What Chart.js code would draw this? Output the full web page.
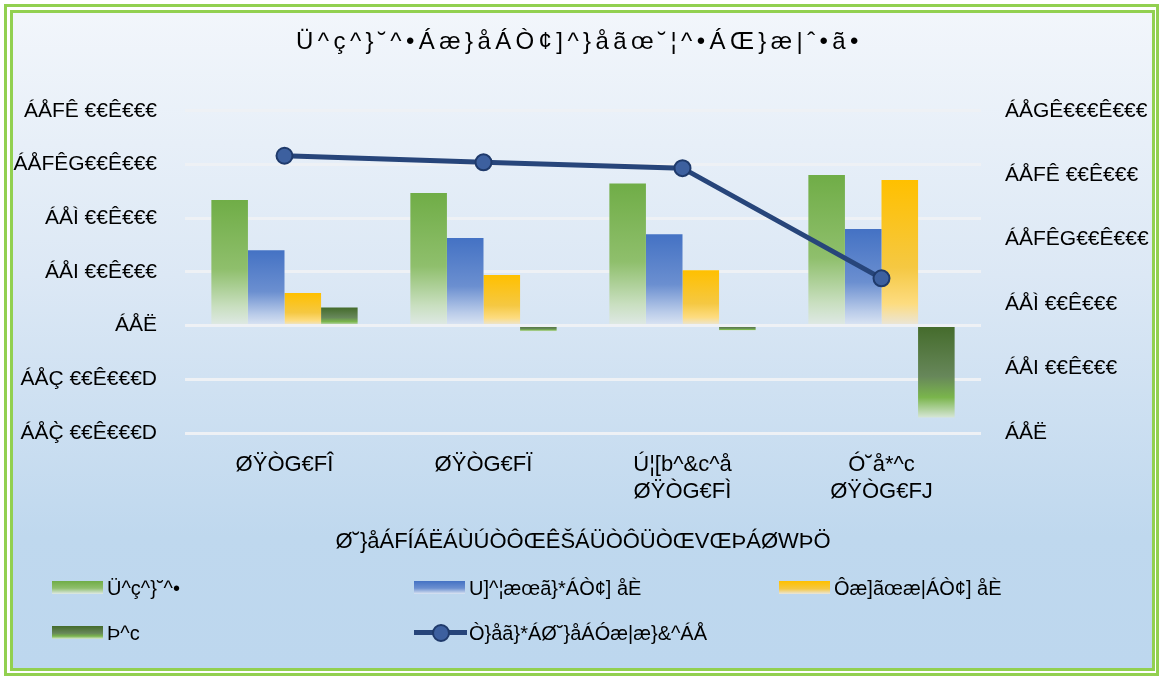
<!DOCTYPE html>
<html>
<head>
<meta charset="utf-8">
<script src="https://cdn.jsdelivr.net/npm/chart.js@4.4.1/dist/chart.umd.min.js"></script>
<style>
  body { margin: 0; background: #fff; font-family: "Liberation Sans", Arial, sans-serif; }
  #wrap { position: relative; width: 1159px; height: 677px; overflow: hidden; }
  .frame { position: absolute; box-sizing: border-box; border: 3px solid #92d050; }
  #outer { left: 4px; top: 4px; width: 1155px; height: 672px; }
  #inner { left: 10px; top: 10px; width: 1145px; height: 661px;
    background: linear-gradient(to bottom, #f2f6fb 0%, #dce8f5 40%, #bfd8ee 80%, #bdd7ee 100%); }
  canvas { position: absolute; left: 0; top: 0; }
  .lg { position: absolute; font-size: 20px; color: #000; white-space: nowrap; line-height: 24px; }
  .sw { position: absolute; height: 13px; }
</style>
</head>
<body>
<div id="wrap">
  <div class="frame" id="outer"></div>
  <div class="frame" id="inner"></div>
  <canvas id="myChart" width="1159" height="677"></canvas>
  <div id="legend"></div>
</div>
<script>
var chartTitle = 'Ü^ç^}˘^•Áæ}åÁÒ¢]^}åãœ˘¦^•ÁŒ}æ|ˆ•ã•';
var xTitle = 'Ø˘}åÁFÍÁËÁÙÚÒÔŒÊŠÁÜÒÔÜÒŒVŒÞÁØWÞÖ';
var categories = ['ØŸÒG€FÎ', 'ØŸÒG€FÏ', ['Ú¦[b^&c^å', 'ØŸÒG€FÌ'], ['Ó˘å*^c', 'ØŸÒG€FJ']];
var seriesNames = ['Ü^ç^}˘^•', 'U]^¦æœã}*ÁÒ¢] åÈ', 'Ôæ]ãœæ|ÁÒ¢] åÈ', 'Þ^c', 'Ò}åã}*ÁØ˘}åÁÓæ|æ}&^ÁÅ'];

var revenues = [935000, 987000, 1058000, 1121000];
var operating = [562000, 652000, 681000, 719000];
var capital = [242000, 376000, 413000, 1084000];
var net = [135000, -42000, -37000, -685000];
var fundBalance = [1721000, 1680000, 1644000, 960000];

// tick labels, bottom to top
var leftTicks = ['ÁÅÇ\u0300 €€Ê€€€D', 'ÁÅÇ €€Ê€€€D', 'ÁÅË', 'ÁÅI €€Ê€€€', 'ÁÅÌ €€Ê€€€', 'ÁÅFÊG€€Ê€€€', 'ÁÅFÊ €€Ê€€€'];
var rightTicks = ['ÁÅË', 'ÁÅI €€Ê€€€', 'ÁÅÌ €€Ê€€€', 'ÁÅFÊG€€Ê€€€', 'ÁÅFÊ €€Ê€€€', 'ÁÅGÊ€€€Ê€€€'];

var greenStops = [[0, '#70ad47'], [0.55, '#8fbf6c'], [0.85, '#c9dfc0'], [1, '#dfe9e6']];
var blueStops = [[0, '#4472c4'], [0.55, '#6b8fd0'], [0.85, '#b9cbe9'], [1, '#dbe5f3']];
var yellowStops = [[0, '#ffc000'], [0.6, '#f5c842'], [0.85, '#fddc80'], [1, '#e9e6dc']];
var netStops = [[0, '#446b2b'], [0.55, '#67875a'], [0.78, '#7ab54c'], [1, '#d6e6d6']];

function barFill(stops) {
    return function (c) {
        var chart = c.chart;
        var y = chart.scales.y;
        if (!chart.chartArea || c.type !== 'data' || !y) return stops[0][1];
        var a = y.getPixelForValue(c.raw);
        var b = y.getPixelForValue(0);
        var top = Math.min(a, b), bot = Math.max(a, b);
        if (bot - top < 1) bot = top + 1;
        var g = chart.ctx.createLinearGradient(0, top, 0, bot);
        stops.forEach(function (s) { g.addColorStop(s[0], s[1]); });
        return g;
    };
}

// wide letter spacing for the chart title only (drawn before the datasets)
var titleSpacing = {
    id: 'titleSpacing',
    beforeDraw: function (chart) { chart.ctx.letterSpacing = '4.4px'; },
    beforeDatasetsDraw: function (chart) { chart.ctx.letterSpacing = '0px'; }
};

var ctx = document.getElementById('myChart');
var font = '"Liberation Sans", Arial, sans-serif';

var chart = new Chart(ctx, {
    type: 'bar',
    data: {
        labels: categories,
        datasets: [
            { label: seriesNames[0], data: revenues, backgroundColor: barFill(greenStops), order: 1 },
            { label: seriesNames[1], data: operating, backgroundColor: barFill(blueStops), order: 1 },
            { label: seriesNames[2], data: capital, backgroundColor: barFill(yellowStops), order: 1 },
            { label: seriesNames[3], data: net, backgroundColor: barFill(netStops), order: 1 },
            {
                type: 'line', label: seriesNames[4], data: fundBalance, yAxisID: 'y1', order: 0,
                borderColor: '#27457a', borderWidth: 5, pointRadius: 8, pointBorderWidth: 2,
                pointBackgroundColor: '#3d609f', pointBorderColor: '#1f3a6b', tension: 0
            }
        ]
    },
    plugins: [titleSpacing],
    options: {
        responsive: false,
        animation: false,
        layout: { padding: { left: 0, right: 0, top: 0, bottom: 122 } },
        datasets: { bar: { barPercentage: 1, categoryPercentage: 0.735 } },
        plugins: {
            legend: { display: false },
            tooltip: { enabled: false },
            title: {
                display: true, text: chartTitle, color: '#000',
                font: { family: font, size: 24, weight: 'normal' },
                padding: { top: 28, bottom: 54 }
            }
        },
        scales: {
            x: {
                grid: { display: false, drawTicks: false, z: 1 },
                border: { display: false },
                ticks: { z: 1, color: '#000', padding: 18, font: { family: font, size: 22, lineHeight: 1.25 } },
                title: { display: true, text: xTitle, color: '#000', padding: 0,
                    font: { family: font, size: 22 } },
                afterFit: function (s) { s.height = 122; }
            },
            y: {
                min: -800000, max: 1600000,
                grid: { color: '#eef1f5', lineWidth: 3, drawTicks: false },
                border: { display: false },
                ticks: { z: 1, stepSize: 400000, color: '#000', padding: 28, font: { family: font, size: 21 },
                    callback: function (v, i) { return leftTicks[i]; } },
                afterFit: function (s) { s.width = 185; }
            },
            y1: {
                position: 'right', min: 0, max: 2000000,
                grid: { display: false, drawTicks: false },
                border: { display: false },
                ticks: { z: 1, stepSize: 400000, color: '#000', padding: 24, font: { family: font, size: 21 },
                    callback: function (v, i) { return rightTicks[i]; } },
                afterFit: function (s) { s.width = 178; }
            }
        }
    }
});
chart.update();

// legend laid out in columns like the original
var legendPos = [[52, 581], [414, 581], [779, 581], [52, 626], [414, 626]];
var swatchCss = [
    'linear-gradient(#70ad47, #8fbf6c 55%, #dfe9e6)',
    'linear-gradient(#4472c4, #6b8fd0 55%, #dbe5f3)',
    'linear-gradient(#ffc000, #f5c842 60%, #e9e6dc)',
    'linear-gradient(#446b2b, #67875a 55%, #7ab54c 78%, #d6e6d6)'
];
var legend = document.getElementById('legend');
seriesNames.forEach(function (name, i) {
    var p = legendPos[i];
    var html = '';
    if (i < 4) {
        html += '<div class="sw" style="left:' + p[0] + 'px;top:' + p[1] + 'px;width:51px;background:' + swatchCss[i] + '"></div>';
    } else {
        html += '<div class="sw" style="left:' + p[0] + 'px;top:' + (p[1] + 4) + 'px;width:53px;height:5px;background:#27457a"></div>';
        html += '<div class="sw" style="left:' + (p[0] + 18) + 'px;top:' + (p[1] - 2) + 'px;width:14px;height:14px;border-radius:50%;border:2px solid #1f3a6b;background:#3d609f"></div>';
    }
    html += '<div class="lg" style="left:' + (p[0] + 55) + 'px;top:' + (p[1] - 5) + 'px">' + name + '</div>';
    legend.insertAdjacentHTML('beforeend', html);
});
</script>
</body>
</html>
